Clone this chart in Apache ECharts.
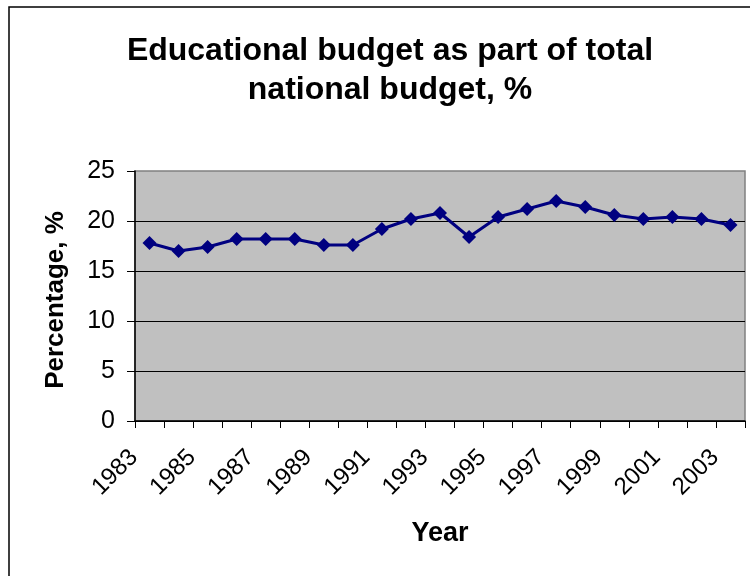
<!DOCTYPE html>
<html>
<head>
<meta charset="utf-8">
<script src="https://cdn.jsdelivr.net/npm/echarts@6/dist/echarts.min.js"></script>
<style>
  html, body { margin: 0; padding: 0; background: #fff; }
  #chart { width: 750px; height: 576px; }
</style>
</head>
<body>
<div id="chart"></div>
<script>
// Years on the category axis
const years = ['1983','1984','1985','1986','1987','1988','1989','1990','1991','1992','1993',
               '1994','1995','1996','1997','1998','1999','2000','2001','2002','2003'];
// Share of the educational budget in the total national budget, %
const eduShare = [17.8, 17.0, 17.4, 18.2, 18.2, 18.2, 17.6, 17.6, 19.2, 20.2, 20.8,
                  18.4, 20.4, 21.2, 22.0, 21.4, 20.6, 20.2, 20.4, 20.2, 19.6];
// Value axis ticks
const yTicks = [0, 5, 10, 15, 20, 25];

const FONT = '"Liberation Sans", Arial, sans-serif';
const chart = echarts.init(document.getElementById('chart'), null, { renderer: 'canvas' });

chart.setOption({
  animation: false,
  backgroundColor: '#ffffff',
  title: {
    text: 'Educational budget as part of total\nnational budget, %',
    left: 385,
    top: 27,
    textAlign: 'center',
    textStyle: {
      fontFamily: FONT,
      fontSize: 32,
      fontWeight: 'bold',
      color: '#000',
      lineHeight: 39
    }
  },
  graphic: [{
    type: 'rect',
    silent: true,
    z: -10,
    shape: { x: 9, y: 7, width: 757, height: 600 },
    style: { fill: 'none', stroke: '#000', lineWidth: 1.5 }
  }],
  grid: {
    left: 135,
    right: 5,
    top: 171,
    bottom: 155,
    show: true,
    backgroundColor: '#C0C0C0',
    borderColor: '#808080',
    borderWidth: 1.5
  },
  xAxis: {
    type: 'category',
    data: years,
    boundaryGap: true,
    name: 'Year',
    nameLocation: 'middle',
    nameGap: 99,
    nameTextStyle: { fontFamily: FONT, fontSize: 27, fontWeight: 'bold', color: '#000' },
    axisLine: { lineStyle: { color: '#000', width: 1.5 } },
    axisTick: { show: true, inside: false, length: 7, interval: 0, alignWithLabel: false, lineStyle: { color: '#000' } },
    axisLabel: {
      interval: 1,
      rotate: 45,
      margin: 17,
      padding: [0, 22, 0, 0],
      fontFamily: FONT,
      fontSize: 24,
      color: '#000'
    },
    splitLine: { show: false }
  },
  yAxis: {
    type: 'value',
    min: yTicks[0],
    max: yTicks[yTicks.length - 1],
    interval: yTicks[1] - yTicks[0],
    name: 'Percentage, %',
    nameLocation: 'middle',
    nameRotate: 90,
    nameGap: 66,
    nameTextStyle: {
      fontFamily: FONT, fontSize: 26, fontWeight: 'bold', color: '#000',
      padding: [0, 8, 0, 0]
    },
    axisLine: { show: true, lineStyle: { color: '#000', width: 1.5 } },
    axisTick: { show: true, inside: false, length: 8, lineStyle: { color: '#000' } },
    axisLabel: { margin: 20, fontFamily: FONT, fontSize: 25, color: '#000' },
    splitLine: { show: true, showMaxLine: false, lineStyle: { color: '#000', width: 1 } }
  },
  series: [{
    type: 'line',
    data: eduShare,
    symbol: 'diamond',
    symbolSize: 14,
    lineStyle: { color: '#000080', width: 3 },
    itemStyle: { color: '#000080' }
  }]
});
</script>
</body>
</html>
